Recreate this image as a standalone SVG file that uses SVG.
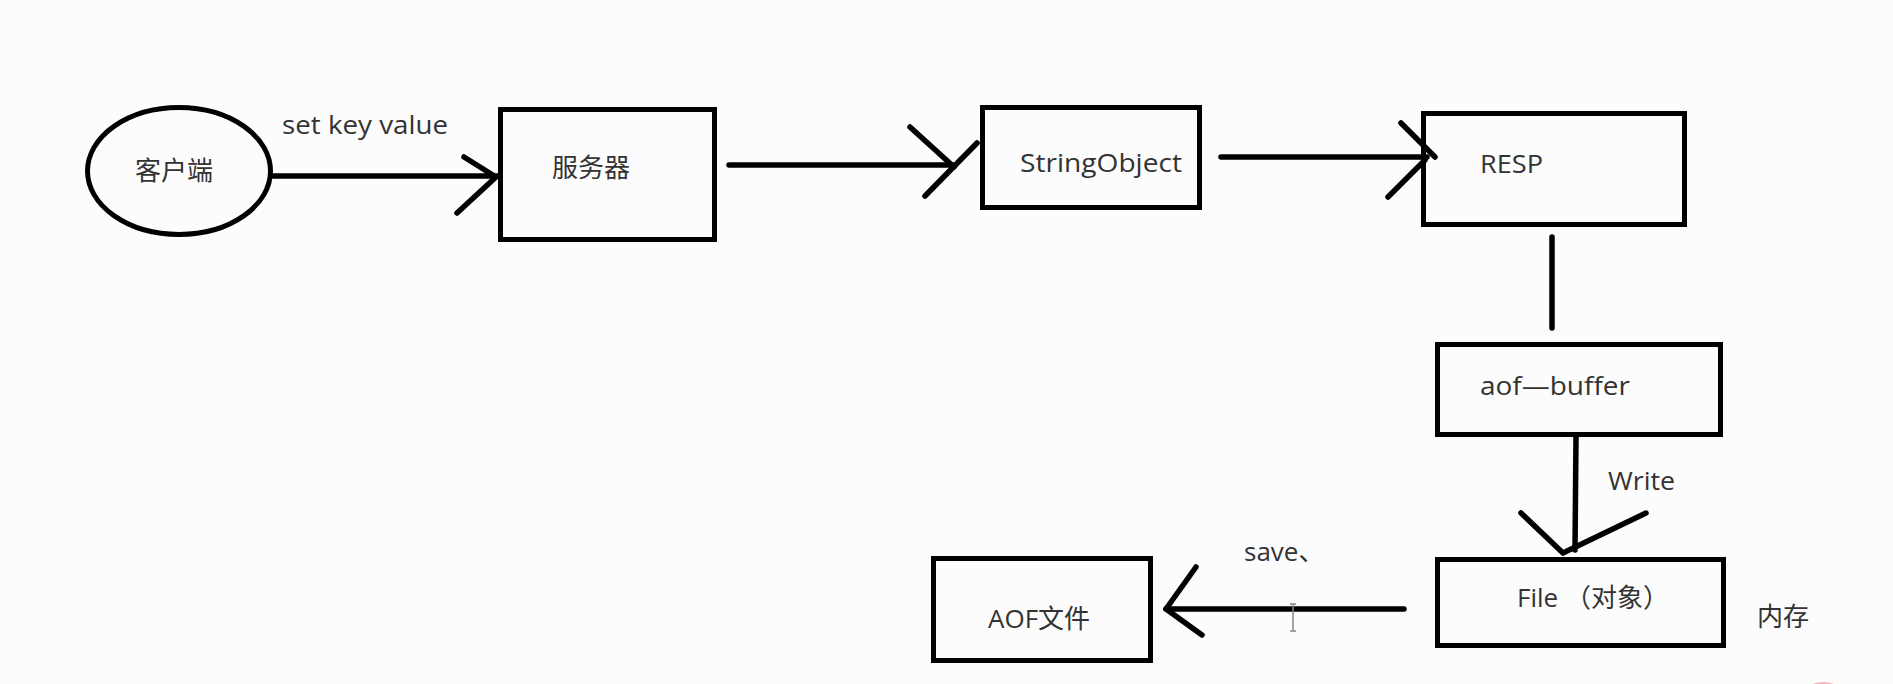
<svg xmlns="http://www.w3.org/2000/svg" width="1893" height="684" viewBox="0 0 1893 684">
<style>
.bg{fill:#fcfcfc}
.box{fill:none;stroke:#000;stroke-width:5}
.ln{fill:none;stroke:#000;stroke-width:5.5;stroke-linecap:round;stroke-linejoin:round}
.t{font-family:"Open Sans","Noto Sans CJK SC",sans-serif;font-size:26px;fill:#333}
.cursor{fill:none;stroke:#888;stroke-width:1.5}
</style>
<rect class="bg" x="0" y="0" width="1893" height="684"/>

<g id="connectors">
  <g id="c1">
    <line class="ln" x1="273" y1="176" x2="498" y2="176"/>
    <polyline class="ln" points="464,157 496,177 457,213"/>
    <text class="t" x="282" y="134" textLength="166" lengthAdjust="spacingAndGlyphs">set key value</text>
  </g>
  <g id="c2">
    <line class="ln" x1="729" y1="165" x2="955" y2="165"/>
    <line class="ln" x1="910" y1="127" x2="954" y2="167"/>
    <line class="ln" x1="925" y1="196" x2="977" y2="143"/>
  </g>
  <g id="c3">
    <line class="ln" x1="1221" y1="157" x2="1427" y2="157"/>
    <line class="ln" x1="1401" y1="123" x2="1435" y2="157"/>
    <line class="ln" x1="1388" y1="197" x2="1425" y2="160"/>
  </g>
  <g id="c4">
    <line class="ln" x1="1552" y1="237" x2="1552" y2="328"/>
  </g>
  <g id="c5">
    <line class="ln" x1="1576" y1="437" x2="1575" y2="550"/>
    <line class="ln" x1="1521" y1="513" x2="1563" y2="553"/>
    <line class="ln" x1="1646" y1="513" x2="1565" y2="552"/>
    <text class="t" x="1608" y="490" textLength="67" lengthAdjust="spacingAndGlyphs">Write</text>
  </g>
  <g id="c6">
    <line class="ln" x1="1404" y1="609" x2="1166" y2="609"/>
    <polyline class="ln" points="1196,567 1166,609 1202,635"/>
    <text class="t" x="1244" y="561">save、</text>
  </g>
</g>

<g id="client">
  <ellipse class="box" cx="179" cy="171" rx="91.5" ry="63.5"/>
  <text class="t" x="135" y="180" font-size="27">客户端</text>
</g>
<g id="server">
  <rect class="box" x="500.5" y="109.5" width="214" height="130"/>
  <text class="t" x="552" y="177">服务器</text>
</g>
<g id="stringobject">
  <rect class="box" x="982.5" y="107.5" width="217" height="100"/>
  <text class="t" x="1020" y="172" textLength="162" lengthAdjust="spacingAndGlyphs">StringObject</text>
</g>
<g id="resp">
  <rect class="box" x="1423.5" y="113.5" width="261" height="111"/>
  <text class="t" x="1480" y="173" textLength="63" lengthAdjust="spacingAndGlyphs">RESP</text>
</g>
<g id="aofbuffer">
  <rect class="box" x="1437.5" y="344.5" width="283" height="90"/>
  <text class="t" x="1480" y="395" textLength="150" lengthAdjust="spacingAndGlyphs">aof—buffer</text>
</g>
<g id="file">
  <rect class="box" x="1437.5" y="559.5" width="286" height="86"/>
  <text class="t" x="1517" y="607">File （对象）</text>
</g>
<g id="memory">
  <text class="t" x="1757" y="626">内存</text>
</g>
<g id="aoffile">
  <rect class="box" x="933.5" y="558.5" width="217" height="102"/>
  <text class="t" x="988" y="628">AOF文件</text>
</g>

<path class="cursor" d="M1290,604 H1296 M1293,604 V631 M1290,631 H1296"/>
<circle cx="1823" cy="712" r="30" fill="#f4b9b9"/>
</svg>
